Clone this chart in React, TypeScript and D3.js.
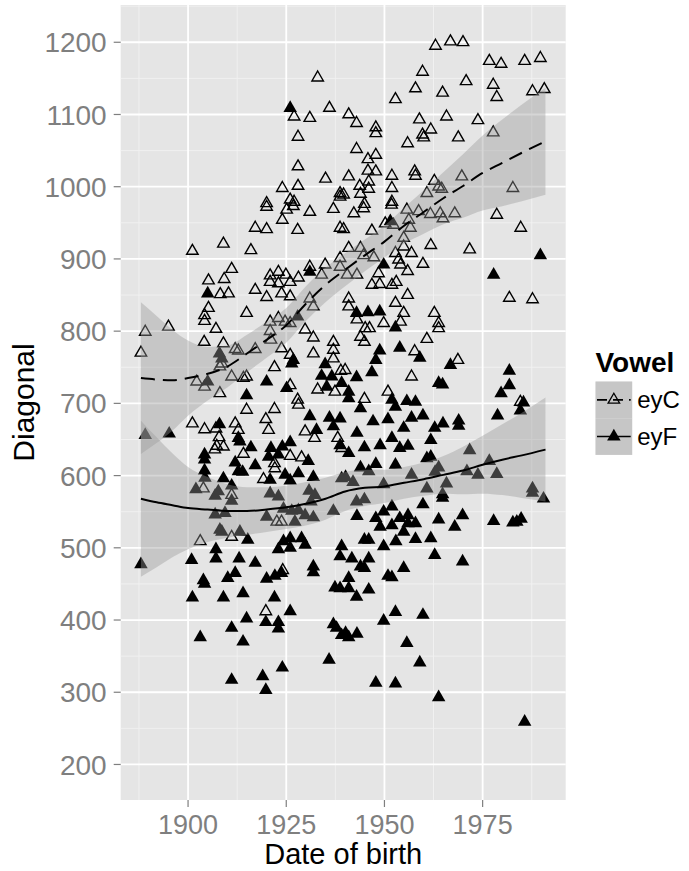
import React from "react";
import * as d3 from "d3";

// Vowel diagonal measurements by speaker date of birth
const eyCPoints: [number, number][] = [
  [1933,1151],[1936,1109],[1927,1097],[1931,1095],[1928,1069],[1928,1028],[1935,1011],[1924,998],[1928,1001],[1938.7,991],[1938.7,986],[1926,982],[1927,979],[1920,977],
  [1963,1195],[1966.8,1201],[1970,1200],[1976.7,1174],[1979.7,1170],[1985.7,1174],[1989.7,1178],[1959.7,1159],[1970.8,1146],[1977.7,1141],[1957.9,1136],[1964.8,1130],[1978.6,1124],[1987.7,1132],[1990.7,1135],[1952.8,1121],[1940.9,1100],[1942.9,1088],[1947.8,1082],[1947.8,1074],[1958.9,1093],[1965.8,1097],[1973.8,1092],[1961.8,1079],[1959.7,1072],[1960,1068],[1955.9,1060],[1968.8,1068],[1977.7,1075],[1942.9,1052],[1945.8,1038],[1947.8,1044],[1945.8,1022],[1947.8,1021],[1940.9,1014],[1951.9,1015],[1957.7,1021],[1957.9,1015],[1943.7,1001],[1946,1007],[1946,997],[1951.9,998],[1962.7,1008],[1969.7,1014],[1963.8,1000],[1964.6,997],[1960.8,991],[1982.7,998],[1943.9,990],[1939.6,989],[1951.9,979],[1944.9,976],
  [1920,972],[1925.1,968],[1926.8,973],[1931,965],[1937,969],[1917.1,943],[1920,941],[1924,954],[1927.9,940],[1938.7,943],[1901.1,911],[1909,921],[1916,912],[1911.1,886],[1905.2,870],[1909.2,872],[1908.2,851],[1910.3,852],[1917.1,857],[1920,847],[1920.9,877],[1923,882],[1924.9,878],[1928.1,874],[1920.9,868],[1923,866],[1926,868],[1923.8,852],[1926,848],[1931,889],[1934.9,892],[1934,878],[1938.7,901],[1938.7,889],[1905.2,832],[1904.2,822],[1904.2,814],[1914.9,825],[1931,845],[1931.9,834],[1907.1,803],[1920.9,813],[1923,818],[1924.7,813],[1920.9,800],[1921.1,788],[1926,811],[1929.8,802],[1931.9,791],[1889.1,799],[1895,806],[1888,770],[1904.1,785],[1909,783],[1912,775],[1912.8,773],[1917.1,775],[1923.8,776],[1926,767],[1931.9,769],[1937,785],[1937,774],[1937,762],[1938.9,745],[1922,750],[1908.6,755],[1908.1,751],[1902.2,730],[1904.2,723],[1911.1,737],[1914.1,735],[1914.9,737],[1926,725],[1908.1,714],[1927.9,705],[1933,719],[1937.4,716],
  [1942.2,963],[1944.7,970],[1951.8,975],[1955.7,968],[1958.7,966],[1961.7,962],[1964.2,963],[1964.9,956],[1967.9,963],[1978.6,961],[1984.7,943],[1939.6,941],[1946.8,939],[1950.2,949],[1952.3,947],[1956.6,943],[1956.2,954],[1954.9,929],[1940.9,915],[1943.9,915],[1944.7,905],[1947.3,902],[1961.8,919],[1971.7,913],[1952.8,908],[1954.9,917],[1956.9,908],[1953.6,899],[1954.1,892],[1955.9,883],[1959.8,893],[1948.5,880],[1940.5,878],[1943,878],[1946.8,864],[1948.8,865],[1951.9,864],[1953,868],[1955.9,850],[1952.8,839],[1954.9,825],[1954.1,813],[1962.7,825],[1963.8,811],[1963.8,804],[1940.9,845],[1940.9,834],[1943,816],[1945.1,804],[1946.2,804],[1943.9,792],[1944.9,785],[1949.8,811],[1960.8,789],[1957.7,772],[1968.7,760],[1981.8,846],[1987.7,844],[1940,746],[1956.9,737],[1950.9,716],[1944.9,706],[1984.6,702],
  [1914.9,691],[1922,692],[1928.1,698],[1901.1,672],[1904.2,664],[1907.1,665],[1912,672],[1912.8,663],[1919.8,678],[1920.5,663],[1907.9,653],[1907.3,641],[1906.8,636],[1909,640],[1914.1,630],[1926,627],[1928.9,625],[1922,617],[1922.1,610],[1929.8,661],[1932.2,652],[1938.1,652],[1939.1,638],[1919.2,595],[1903.9,582],[1911.1,573],[1922.6,536],[1923.8,536],[1903.1,509],[1911.1,515],[1924.1,469],[1919.8,412],
];

const eyFPoints: [number, number][] = [
  [1926,1109],[1905,852],[1931,882],[1927.9,820],[1908,769],[1908.6,762],[1926.4,755],[1926.8,760],[1934.9,754],[1934,738],[1936.6,737],[1935.3,723],[1920,730],[1905,730],[1925.1,721],[1914.9,711],[1939.1,728],
  [1989.7,905],[1977.8,878],[1951.5,952],[1949.8,892],[1942.9,825],[1945.8,826],[1948.8,827],[1952.8,805],[1948.8,773],[1947.8,760],[1953.9,777],[1959,763],[1946.8,743],[1942.9,736],[1966.8,753],[1981.8,745],[1981.8,725],[1979.7,714],[1963.8,728],[1964.8,726],[1940.9,716],[1940.9,707],[1951.9,705],[1955.7,703],[1957.9,702],[1985.4,701],
  [1895.2,658],[1889.1,656],[1908,671],[1912.8,652],[1913.2,647],[1904.2,629],[1904.2,622],[1904.2,607],[1916,639],[1917.1,614],[1912,618],[1912.8,606],[1913.9,605],[1921.1,638],[1920.5,626],[1923,629],[1924,640],[1926,646],[1931,682],[1932.7,663],[1930.6,620],[1936,680],[1938.7,679],[1937,668],[1938.7,642],[1924.7,601],[1926,593],[1928.1,603],[1931.9,598],[1920.9,594],[1909,596],[1911.1,586],[1904.3,597],[1902,581],[1907.7,578],[1906.9,572],[1911.1,565],[1920.9,575],[1923,571],[1930.8,579],[1932.3,573],[1931.3,564],[1939.1,596],[1937,551],[1924.3,554],[1926.4,551],[1928.1,552],[1929.8,545],[1931.9,542],[1906.9,546],[1909.4,548],[1920,543],[1927.2,536],[1908.1,525],[1908.6,522],[1913.2,522],[1915.2,511],[1924.3,509],[1926,513],[1928.9,513],[1929.8,504],[1923,498],[1926,500],[1939.1,502],[1938.7,488],[1907.1,498],[1907.1,485],[1900.9,483],[1913,485],[1917.1,479],[1888,477],[1912,465],[1910.1,458],[1903.9,455],[1904.2,450],[1920,457],[1922.1,461],[1923.8,465],[1931.9,474],[1931.9,466],[1937.4,445],[1938.7,444],[1901.1,431],[1909,431],[1914,437],[1922,431],
  [1943.9,693],[1952.8,695],[1959.8,683],[1956.9,680],[1950.9,678],[1947.1,675],[1968.9,676],[1968.9,669],[1964.9,672],[1962.8,666],[1954.9,666],[1978.8,683],[1984.6,690],[1943,659],[1951.9,652],[1961.8,649],[1948.9,642],[1944.9,639],[1953.9,638],[1956,641],[1940.9,631],[1960.8,624],[1961.8,626],[1947.8,616],[1952.8,615],[1943.9,611],[1946,606],[1971.7,635],[1963.8,611],[1962.9,605],[1976.7,620],[1978.6,602],[1971,606],[1973.8,601],[1956.9,601],[1940.1,598],[1942,591],[1949.8,588],[1965.8,589],[1960.8,582],[1964.8,574],[1964.8,569],[1942.9,564],[1944.9,567],[1987.7,582],[1987.7,576],[1990.5,568],[1959.8,560],[1951.9,557],[1949.8,550],[1943,544],[1947.8,541],[1948.9,529],[1951.9,531],[1953.9,541],[1956,545],[1956,534],[1957.9,534],[1954.9,522],[1963.8,539],[1969.9,545],[1967.9,529],[1977.8,537],[1982.7,535],[1983.7,536],[1984.8,540],[1944.9,511],[1946,511],[1952.9,509],[1957.9,512],[1961.8,513],[1949.8,502],[1962.8,490],[1969.9,481],[1941.7,485],[1943.9,474],[1944.9,472],[1946,485],[1954.9,472],[1950.9,461],[1951.9,459],[1940.9,458],[1940.9,444],[1942.9,432],[1946,442],
  [1926,412],[1914.9,402],[1911.1,389],[1919.8,397],[1923,397],[1923,388],[1903.1,376],[1914,370],[1937,394],[1937.8,389],[1939.1,379],[1924,334],[1919,322],[1911.1,317],[1919.8,303],[1935.9,345],
  [1952.8,411],[1959.8,407],[1949.8,399],[1940.1,382],[1940.9,376],[1943,381],[1955.7,368],[1959,341],[1947.8,313],[1952.8,312],[1963.8,293],[1985.7,259],
];

// Loess fits with confidence bands
const smoothYears = [1888, 1892, 1896, 1900, 1905, 1910, 1915, 1920, 1925, 1930, 1935, 1940, 1945, 1950, 1955, 1960, 1965, 1970, 1975, 1980, 1985, 1991];
const eyCFit = [735, 733, 732, 735, 741, 751, 769, 788, 808, 838, 864, 885, 905, 924, 946, 965, 984, 1001, 1019, 1033, 1047, 1063];
const eyCHalfWidth = [105, 88, 70, 52, 37, 29, 26, 25, 24, 24, 24, 23, 22, 22, 25, 30, 36, 44, 52, 60, 67, 74];
const eyFFit = [568, 563, 559, 555, 553, 551, 551, 553, 556, 561, 568, 578, 583, 585, 590, 595, 601, 607, 615, 622, 628, 636];
const eyFHalfWidth = [108, 90, 72, 57, 45, 37, 33, 31, 30, 30, 29, 27, 25, 23, 22, 23, 26, 33, 40, 49, 59, 72];

const xTicks = [1900, 1925, 1950, 1975];
const xMinor = [1887.5, 1912.5, 1937.5, 1962.5, 1987.5];
const yTicks = [200, 300, 400, 500, 600, 700, 800, 900, 1000, 1100, 1200];
const yMinor = [250, 350, 450, 550, 650, 750, 850, 950, 1050, 1150, 1250];

const vowels = ["eyC", "eyF"];

const W = 689;
const H = 871;
const panel = { left: 120.7, right: 565.7, top: 5, bottom: 800 };
const FONT = "'Liberation Sans', Arial, Helvetica, sans-serif";

function triangle(side: number) {
  const r = side / Math.sqrt(3);
  const h = (r * Math.sqrt(3)) / 2;
  return `M0,${-r}L${h},${r / 2}L${-h},${r / 2}Z`;
}

export default function App() {
  const x = d3.scaleLinear().domain([1882.85, 1996.15]).range([panel.left, panel.right]);
  const y = d3.scaleLinear().domain([150.8, 1251.6]).range([panel.bottom, panel.top]);

  const band = (fit: number[], hw: number[]) =>
    d3
      .area<number>()
      .x((_, i) => x(smoothYears[i]))
      .y0((_, i) => y(fit[i] - hw[i]))
      .y1((_, i) => y(fit[i] + hw[i]))
      .curve(d3.curveMonotoneX)(fit) as string;
  const fitLine = (fit: number[]) =>
    d3
      .line<number>()
      .x((_, i) => x(smoothYears[i]))
      .y((d) => y(d))
      .curve(d3.curveMonotoneX)(fit) as string;

  const openTri = triangle(11.5);
  const solidTri = triangle(13.5);
  const dash = "14 8";

  const keyX = 595.5;
  const keySize = 36.7;
  const keyY0 = 381.5;

  return (
    <svg
      width={W}
      height={H}
      style={{ position: "absolute", left: 0, top: 0, background: "#fff" }}
      fontFamily={FONT}
    >
      <rect x={0} y={0} width={W} height={H} fill="#fff" />
      <rect
        x={panel.left}
        y={panel.top}
        width={panel.right - panel.left}
        height={panel.bottom - panel.top}
        fill="#e5e5e5"
      />
      {xMinor.map((v) => (
        <line key={"xm" + v} x1={x(v)} x2={x(v)} y1={panel.top} y2={panel.bottom} stroke="#f2f2f2" strokeWidth={0.9} />
      ))}
      {yMinor.map((v) => (
        <line key={"ym" + v} y1={y(v)} y2={y(v)} x1={panel.left} x2={panel.right} stroke="#f2f2f2" strokeWidth={0.9} />
      ))}
      {xTicks.map((v) => (
        <line key={"xg" + v} x1={x(v)} x2={x(v)} y1={panel.top} y2={panel.bottom} stroke="#fff" strokeWidth={1.8} />
      ))}
      {yTicks.map((v) => (
        <line key={"yg" + v} y1={y(v)} y2={y(v)} x1={panel.left} x2={panel.right} stroke="#fff" strokeWidth={1.8} />
      ))}

      <g>
        {eyCPoints.map(([a, b], i) => (
          <path
            key={"c" + i}
            d={openTri}
            transform={`translate(${x(a)},${y(b)})`}
            fill="none"
            stroke="#000"
            strokeWidth={1.4}
          />
        ))}
        {eyFPoints.map(([a, b], i) => (
          <path key={"f" + i} d={solidTri} transform={`translate(${x(a)},${y(b)})`} fill="#000" />
        ))}
      </g>

      <path d={band(eyCFit, eyCHalfWidth)} fill="#999999" fillOpacity={0.4} />
      <path d={fitLine(eyCFit)} fill="none" stroke="#000" strokeWidth={2} strokeDasharray={dash} />
      <path d={band(eyFFit, eyFHalfWidth)} fill="#999999" fillOpacity={0.4} />
      <path d={fitLine(eyFFit)} fill="none" stroke="#000" strokeWidth={2} />

      {/* axes */}
      {yTicks.map((v) => (
        <g key={"yt" + v}>
          <line x1={panel.left - 7} x2={panel.left} y1={y(v)} y2={y(v)} stroke="#7f7f7f" strokeWidth={1.2} />
          <text x={panel.left - 14} y={y(v)} dy="0.36em" textAnchor="end" fontSize={28} fill="#7f7f7f">
            {v}
          </text>
        </g>
      ))}
      {xTicks.map((v) => (
        <g key={"xt" + v}>
          <line x1={x(v)} x2={x(v)} y1={panel.bottom} y2={panel.bottom + 7} stroke="#7f7f7f" strokeWidth={1.2} />
          <text x={x(v)} y={834} textAnchor="middle" fontSize={27} fill="#7f7f7f">
            {v}
          </text>
        </g>
      ))}
      <text x={(panel.left + panel.right) / 2} y={864} textAnchor="middle" fontSize={29} fill="#000">
        Date of birth
      </text>
      <text
        transform={`translate(34,${(panel.top + panel.bottom) / 2}) rotate(-90)`}
        textAnchor="middle"
        fontSize={30}
        fill="#000"
      >
        Diagonal
      </text>

      {/* legend */}
      <text x={keyX} y={372} fontSize={28} fontWeight="bold" fill="#000">
        Vowel
      </text>
      {vowels.map((name, i) => {
        const top = keyY0 + i * keySize;
        const cy = top + keySize / 2;
        return (
          <g key={name}>
            <rect x={keyX} y={top} width={keySize} height={keySize} fill="#e5e5e5" />
            <rect x={keyX} y={top} width={keySize} height={keySize} fill="#999999" fillOpacity={0.4} />
            <line
              x1={keyX + 1.5}
              x2={keyX + keySize - 1.5}
              y1={cy}
              y2={cy}
              stroke="#000"
              strokeWidth={1.6}
              strokeDasharray={i === 0 ? "10 6" : undefined}
            />
            {i === 0 ? (
              <path d={openTri} transform={`translate(${keyX + keySize / 2},${cy})`} fill="none" stroke="#000" strokeWidth={1.3} />
            ) : (
              <path d={solidTri} transform={`translate(${keyX + keySize / 2},${cy})`} fill="#000" />
            )}
            <text x={keyX + keySize + 5} y={cy} dy="0.36em" fontSize={24} fill="#000">
              {name}
            </text>
          </g>
        );
      })}
    </svg>
  );
}
